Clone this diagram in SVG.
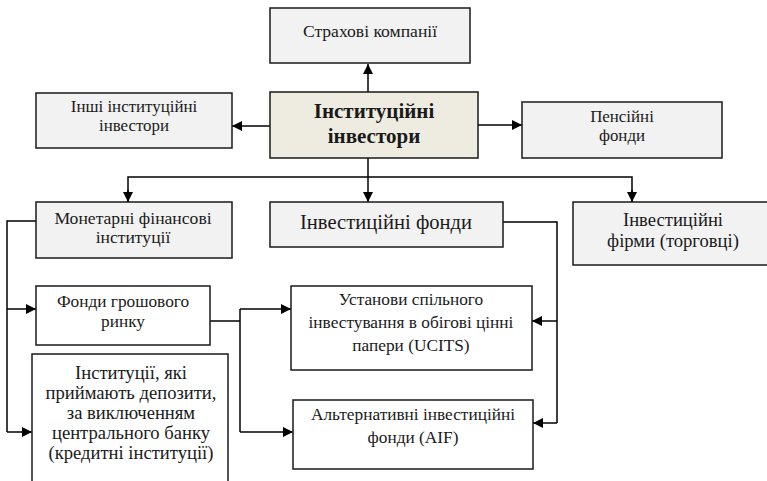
<svg xmlns="http://www.w3.org/2000/svg" width="767" height="481" viewBox="0 0 767 481">
  <style>
    .box { stroke: #1a1a1a; stroke-width: 1.5; }
    .grey { fill: #f2f2f2; }
    .white { fill: #ffffff; }
    .core { fill: #eeece1; }
    text { font-family: 'Liberation Serif', 'DejaVu Serif', serif; fill: #1a1a1a; text-anchor: middle; }
    .t17 { font-size: 17.3px; }
    .t175 { font-size: 17.6px; }
    .t168 { font-size: 16.9px; }
    .t185 { font-size: 18.6px; }
    .t20 { font-size: 20.6px; }
    .bold { font-size: 21px; font-weight: bold; }
    .wire { fill: none; stroke: #000; stroke-width: 1.5; }
  </style>
  <defs>
    <marker id="arrow" viewBox="0 0 10 10" refX="10" refY="5" markerWidth="10" markerHeight="10" markerUnits="userSpaceOnUse" orient="auto">
      <path d="M0,0 L10,5 L0,10 Z" fill="#000"/>
    </marker>
  </defs>

  <!-- connectors -->
  <g id="connectors">
    <line class="wire" x1="368" y1="92" x2="368" y2="64" marker-end="url(#arrow)"/>
    <line class="wire" x1="270" y1="126" x2="232" y2="126" marker-end="url(#arrow)"/>
    <line class="wire" x1="478" y1="125" x2="522" y2="125" marker-end="url(#arrow)"/>
    <line class="wire" x1="368" y1="158" x2="368" y2="202" marker-end="url(#arrow)"/>
    <polyline class="wire" points="128,202 128,177 632,177 632,202" />
    <line class="wire" x1="128" y1="190" x2="128" y2="202" marker-end="url(#arrow)"/>
    <line class="wire" x1="632" y1="190" x2="632" y2="202" marker-end="url(#arrow)"/>
    <!-- monetary institutions branch -->
    <polyline class="wire" points="36,221 7,221 7,432"/>
    <line class="wire" x1="7" y1="309" x2="36" y2="309" marker-end="url(#arrow)"/>
    <line class="wire" x1="7" y1="432" x2="32" y2="432" marker-end="url(#arrow)"/>
    <!-- money market funds branch -->
    <polyline class="wire" points="210,321 240,321"/>
    <polyline class="wire" points="240,309 240,432"/>
    <line class="wire" x1="240" y1="309" x2="291" y2="309" marker-end="url(#arrow)"/>
    <line class="wire" x1="240" y1="432" x2="293" y2="432" marker-end="url(#arrow)"/>
    <!-- investment funds branch -->
    <polyline class="wire" points="503,222 557,222 557,423"/>
    <line class="wire" x1="557" y1="321" x2="532" y2="321" marker-end="url(#arrow)"/>
    <line class="wire" x1="557" y1="423" x2="533" y2="423" marker-end="url(#arrow)"/>
  </g>

  <g id="insurance">
    <rect class="box grey" x="270" y="8" width="200" height="55"/>
    <text class="t175" x="370" y="37">Страхові компанії</text>
  </g>

  <g id="other-investors">
    <rect class="box grey" x="36" y="93" width="196" height="55"/>
    <text class="t168" x="134" y="112">Інші інституційні</text>
    <text class="t168" x="134" y="131">інвестори</text>
  </g>

  <g id="institutional-investors">
    <rect class="box core" x="270" y="92" width="208" height="66"/>
    <text class="bold" x="374" y="118">Інституційні</text>
    <text class="bold" x="374" y="143">інвестори</text>
  </g>

  <g id="pension-funds">
    <rect class="box grey" x="522" y="102" width="200" height="56"/>
    <text class="t168" x="622" y="122">Пенсійні</text>
    <text class="t168" x="622" y="141">фонди</text>
  </g>

  <g id="monetary-institutions">
    <rect class="box grey" x="36" y="202" width="196" height="56"/>
    <text class="t175" x="133" y="224">Монетарні фінансові</text>
    <text class="t175" x="133" y="243">інституції</text>
  </g>

  <g id="investment-funds">
    <rect class="box grey" x="270" y="202" width="233" height="45"/>
    <text class="t20" x="386" y="229">Інвестиційні фонди</text>
  </g>

  <g id="investment-firms">
    <rect class="box grey" x="573" y="202" width="200" height="63"/>
    <text class="t185" x="673" y="226">Інвестиційні</text>
    <text class="t185" x="673" y="247">фірми (торговці)</text>
  </g>

  <g id="money-market-funds">
    <rect class="box white" x="36" y="286" width="174" height="59"/>
    <text class="t17" x="123" y="307">Фонди грошового</text>
    <text class="t17" x="123" y="327">ринку</text>
  </g>

  <g id="deposit-institutions">
    <rect class="box white" x="32" y="354" width="196" height="140"/>
    <text class="t185" x="131" y="379">Інституції, які</text>
    <text class="t185" x="131" y="399">приймають депозити,</text>
    <text class="t185" x="131" y="419">за виключенням</text>
    <text class="t185" x="131" y="439">центрального банку</text>
    <text class="t185" x="131" y="459">(кредитні інституції)</text>
  </g>

  <g id="ucits">
    <rect class="box white" x="291" y="286" width="241" height="84"/>
    <text class="t17" x="411" y="305">Установи спільного</text>
    <text class="t17" x="411" y="328">інвестування в обігові цінні</text>
    <text class="t17" x="411" y="351">папери (UCITS)</text>
  </g>

  <g id="aif">
    <rect class="box white" x="293" y="400" width="240" height="69"/>
    <text class="t17" x="413" y="420">Альтернативні інвестиційні</text>
    <text class="t17" x="413" y="443">фонди (AIF)</text>
  </g>
</svg>
